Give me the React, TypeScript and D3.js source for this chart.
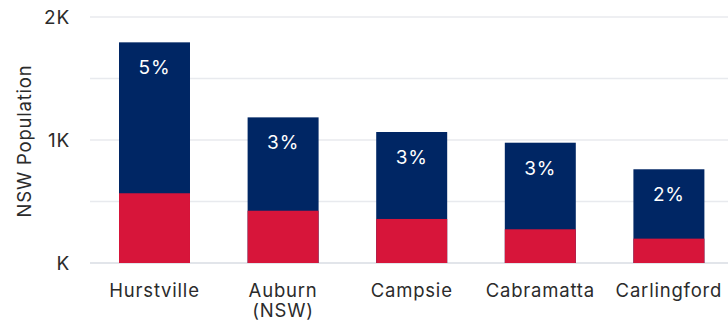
import React from "react";
import * as d3 from "d3";

const categories = ["Hurstville", "Auburn\n(NSW)", "Campsie", "Cabramatta", "Carlingford"];
const totalValues = [1794, 1184, 1065, 978, 762];
const redValues = [567, 425, 358, 274, 198];
const percentLabels = ["5%", "3%", "3%", "3%", "2%"];
const yTicks = [0, 500, 1000, 1500, 2000];
const yTickLabels: Record<number, string> = { 0: "K", 1000: "1K", 2000: "2K" };

const W = 728;
const H = 326;
const FONT = "Inter, 'Open Sans', sans-serif";
const NAVY = "#002664";
const RED = "#D7153A";
const LS = 0.8;

export default function App() {
  const y = d3.scaleLinear().domain([0, 2000]).range([263, 17]);
  const x = d3
    .scaleBand<string>()
    .domain(categories)
    .range([90.2, 733.2])
    .paddingInner(0.448)
    .paddingOuter(0.224);

  return (
    <svg
      width={W}
      height={H}
      style={{ position: "absolute", left: 0, top: 0, background: "#fff" }}
      fontFamily={FONT}
    >
      {yTicks.map((t) => (
        <line
          key={t}
          x1={90}
          x2={W}
          y1={y(t)}
          y2={y(t)}
          stroke={t === 0 ? "#d9dde3" : "#e8eaee"}
          strokeWidth={1.5}
        />
      ))}
      {yTicks
        .filter((t) => yTickLabels[t] !== undefined)
        .map((t) => (
          <text
            key={t}
            x={70}
            y={y(t)}
            dy="0.36em"
            textAnchor="end"
            fontSize={19}
            letterSpacing={LS}
            fill="#2b2b2b"
          >
            {yTickLabels[t]}
          </text>
        ))}
      <text
        transform={`translate(31,141) rotate(-90)`}
        textAnchor="middle"
        fontSize={18.5}
        letterSpacing={LS}
        fill="#2b2b2b"
      >
        NSW Population
      </text>
      {categories.map((c, i) => {
        const bx = x(c)!;
        const bw = x.bandwidth();
        return (
          <g key={c}>
            <rect x={bx} y={y(totalValues[i])} width={bw} height={y(0) - y(totalValues[i])} fill={NAVY} />
            <rect x={bx} y={y(redValues[i])} width={bw} height={y(0) - y(redValues[i])} fill={RED} />
            <text
              x={bx + bw / 2}
              y={y(totalValues[i]) + 32}
              textAnchor="middle"
              fontSize={19}
              letterSpacing={LS}
              fill="#fff"
            >
              {percentLabels[i]}
            </text>
            {c.split("\n").map((line, j) => (
              <text
                key={j}
                x={bx + bw / 2}
                y={297 + j * 20}
                textAnchor="middle"
                fontSize={18.5}
                letterSpacing={LS}
                fill="#2b2b2b"
              >
                {line}
              </text>
            ))}
          </g>
        );
      })}
    </svg>
  );
}
